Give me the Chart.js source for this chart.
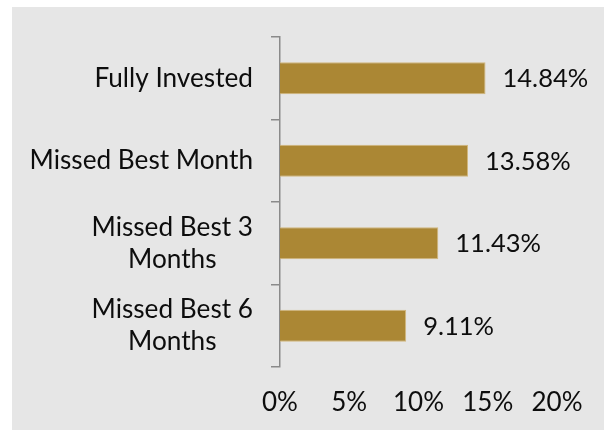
<!DOCTYPE html>
<html>
<head>
<meta charset="utf-8">
<script src="https://cdn.jsdelivr.net/npm/chart.js@4/dist/chart.umd.min.js"></script>
<style>
  html, body { margin: 0; padding: 0; background: #ffffff; }
  #wrap { position: absolute; left: 12px; top: 7px; width: 592px; height: 423px; background: #e6e6e6; }
</style>
</head>
<body>
<div id="wrap"><canvas id="c"></canvas></div>
<script>
const categories = [
  ['Fully Invested'],
  ['Missed Best Month'],
  ['Missed Best 3', 'Months'],
  ['Missed Best 6', 'Months']
];
const values = [14.84, 13.58, 11.43, 9.11];
const valueLabels = ['14.84%', '13.58%', '11.43%', '9.11%'];
const xTicks = [0, 5, 10, 15, 20];

const FONT = 'Lato, "Noto Sans", sans-serif';
const TEXT = '#0d0d0d';

const yLabelPlugin = {
  id: 'yLabels',
  afterDraw(chart) {
    const ctx = chart.ctx;
    const y = chart.scales.y;
    ctx.save();
    ctx.font = '26.2px ' + FONT;
    ctx.fillStyle = TEXT;
    ctx.textAlign = 'center';
    ctx.textBaseline = 'middle';
    const lh = 32;
    const rightEdge = y.right - 27;
    categories.forEach((lines, i) => {
      const cy = y.getPixelForTick(i);
      let w = 0;
      lines.forEach(l => { w = Math.max(w, ctx.measureText(l).width); });
      const cx = rightEdge - w / 2;
      const top = cy - (lines.length - 1) * lh / 2;
      lines.forEach((l, k) => ctx.fillText(l, cx, top + k * lh));
    });
    ctx.restore();
  }
};

const valueLabelPlugin = {
  id: 'valueLabels',
  afterDatasetsDraw(chart) {
    const ctx = chart.ctx;
    const meta = chart.getDatasetMeta(0);
    ctx.save();
    ctx.font = '25.5px ' + FONT;
    ctx.fillStyle = TEXT;
    ctx.textAlign = 'left';
    ctx.textBaseline = 'middle';
    meta.data.forEach((bar, i) => {
      ctx.fillText(valueLabels[i], bar.x + 17, bar.y + 1);
    });
    ctx.restore();
  }
};

new Chart(document.getElementById('c'), {
  type: 'bar',
  data: {
    labels: categories.map(l => l.join(' ')),
    datasets: [{
      data: values,
      backgroundColor: '#ab8734',
      borderColor: '#d2b77c',
      borderWidth: 1,
      barPercentage: 0.39,
      categoryPercentage: 1
    }]
  },
  options: {
    indexAxis: 'y',
    responsive: true,
    maintainAspectRatio: false,
    animation: false,
    layout: { padding: { top: 30, right: 47, bottom: 0, left: 0 } },
    plugins: { legend: { display: false }, tooltip: { enabled: false } },
    scales: {
      x: {
        min: 0, max: 20,
        afterBuildTicks(scale) { scale.ticks = xTicks.map(v => ({ value: v })); },
        afterFit(scale) { scale.height = 63; },
        grid: { display: false },
        border: { display: false },
        ticks: {
          padding: 12,
          color: TEXT,
          font: { family: FONT, size: 26 },
          callback: v => v + '%'
        }
      },
      y: {
        afterFit(scale) { scale.width = 268; },
        grid: { display: true, drawOnChartArea: false, drawTicks: true, tickLength: 9, color: '#8a8a8a', lineWidth: 1.5 },
        border: { display: true, color: '#8a8a8a', width: 1.5 },
        ticks: { display: false }
      }
    }
  },
  plugins: [yLabelPlugin, valueLabelPlugin]
});
</script>
</body>
</html>
